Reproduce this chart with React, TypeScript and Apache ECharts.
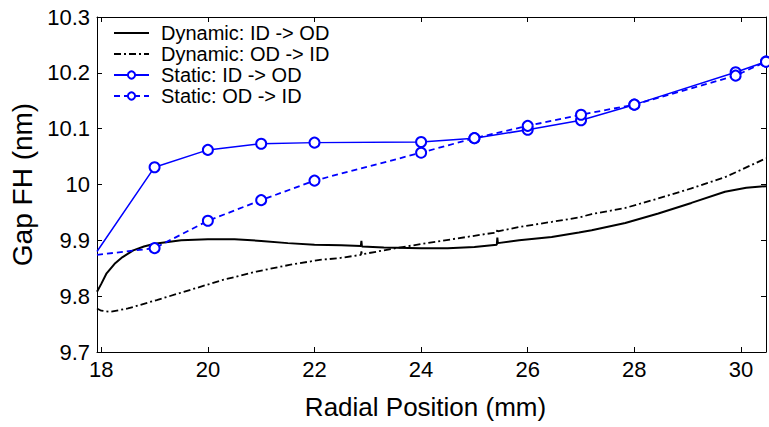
import React, { useEffect, useRef } from "react";
import * as echarts from "echarts";

// ---- Data ----
const xMin = 17.92;
const xMax = 30.47;

const dynIdOdX = [17.92, 18.0, 18.1, 18.25, 18.4, 18.6, 18.8, 19.0, 19.5, 20.0, 20.5, 21.0, 21.5, 22.0, 22.5, 22.87, 22.88, 22.89, 23.3, 24.0, 24.5, 25.0, 25.42, 25.43, 25.44, 25.84, 26.45, 26.96, 27.2, 27.83, 28.45, 29.07, 29.7, 30.1, 30.32, 30.47];
const dynIdOdY = [9.808, 9.822, 9.841, 9.858, 9.870, 9.882, 9.889, 9.894, 9.900, 9.902, 9.902, 9.899, 9.895, 9.892, 9.891, 9.890, 9.899, 9.889, 9.887, 9.886, 9.886, 9.888, 9.892, 9.905, 9.895, 9.900, 9.906, 9.914, 9.918, 9.931, 9.948, 9.967, 9.987, 9.994, 9.996, 9.997];

const dynOdIdX = [17.92, 18.0, 18.17, 18.5, 19.04, 19.66, 20.28, 20.91, 21.53, 22.1, 22.45, 22.87, 22.88, 22.89, 23.65, 24.58, 25.33, 25.42, 25.43, 25.44, 25.84, 26.45, 26.96, 27.2, 27.83, 28.45, 29.07, 29.7, 30.2, 30.47];
const dynOdIdY = [9.778, 9.774, 9.772, 9.778, 9.793, 9.811, 9.829, 9.844, 9.856, 9.865, 9.868, 9.874, 9.880, 9.875, 9.888, 9.902, 9.913, 9.914, 9.921, 9.916, 9.924, 9.933, 9.941, 9.947, 9.958, 9.975, 9.993, 10.013, 10.035, 10.047];

const statIdOdX = [17.92, 19, 20, 21, 22, 24, 25, 26, 27, 28, 29.9, 30.47];
const statIdOdY = [9.880, 10.031, 10.062, 10.073, 10.075, 10.076, 10.083, 10.098, 10.115, 10.143, 10.201, 10.220];

const statOdIdX = [17.92, 19, 20, 21, 22, 24, 25, 26, 27, 28, 29.9, 30.47];
const statOdIdY = [9.874, 9.886, 9.935, 9.972, 10.007, 10.057, 10.083, 10.105, 10.125, 10.143, 10.195, 10.220];

const seriesNames = [
  "Dynamic: ID -> OD",
  "Dynamic: OD -> ID",
  "Static: ID -> OD",
  "Static: OD -> ID",
];

const yTicks = { min: 9.7, max: 10.3, step: 0.1 };

const xLabel = "Radial Position (mm)";
const yLabel = "Gap FH (nm)";

const zip = (xs: number[], ys: number[]) => xs.map((x, i) => [x, ys[i]]);
const staticData = (xs: number[], ys: number[]) =>
  xs.map((x, i) =>
    i === 0 ? { value: [x, ys[i]], symbol: "none" } : { value: [x, ys[i]] }
  );

const FONT = "'Liberation Sans', Arial, sans-serif";

export default function App() {
  const ref = useRef<HTMLDivElement>(null);
  useEffect(() => {
    if (!ref.current) return;
    const chart = echarts.init(ref.current, undefined, { renderer: "svg" });
    const axisLine = { show: true, onZero: false, lineStyle: { color: "#000", width: 1 } };
    const axisTick = { show: true, inside: true, length: 5, lineStyle: { color: "#000", width: 1 } };
    const xFormatter = (v: number) => {
      const r = Math.round(v * 1000) / 1000;
      return Number.isInteger(r) && r % 2 === 0 ? String(r) : "";
    };
    chart.setOption({
      animation: false,
      backgroundColor: "#fff",
      textStyle: { fontFamily: FONT },
      grid: { left: 97, right: 1, top: 17, bottom: 75, containLabel: false },
      legend: {
        show: true,
        orient: "vertical",
        left: 113,
        top: 23,
        padding: 0,
        itemWidth: 35,
        itemHeight: 9,
        itemGap: 1,
        data: [
          { name: seriesNames[0], itemStyle: { opacity: 0 } },
          { name: seriesNames[1], itemStyle: { opacity: 0 } },
          { name: seriesNames[2] },
          { name: seriesNames[3] },
        ],
        textStyle: {
          fontFamily: FONT,
          fontSize: 20,
          lineHeight: 20,
          color: "#000",
          padding: [0, 0, 0, 7],
        },
      },
      xAxis: [
        {
          type: "value",
          position: "bottom",
          min: xMin,
          max: xMax,
          splitNumber: 6,
          axisLine,
          axisTick,
          splitLine: { show: false },
          axisLabel: {
            color: "#000",
            fontFamily: FONT,
            fontSize: 22,
            margin: 6,
            formatter: xFormatter,
          },
          name: xLabel,
          nameLocation: "middle",
          nameGap: 42,
          nameTextStyle: { color: "#000", fontFamily: FONT, fontSize: 26, padding: [0, 12, 0, 0] },
        },
        {
          type: "value",
          position: "top",
          min: xMin,
          max: xMax,
          splitNumber: 6,
          axisLine,
          axisTick,
          splitLine: { show: false },
          axisLabel: { show: false },
        },
      ],
      yAxis: [
        {
          type: "value",
          position: "left",
          min: yTicks.min,
          max: yTicks.max,
          interval: yTicks.step,
          axisLine,
          axisTick,
          splitLine: { show: false },
          axisLabel: {
            color: "#000",
            fontFamily: FONT,
            fontSize: 22,
            margin: 7,
            formatter: (v: number) => String(Math.round(v * 10) / 10),
          },
          name: yLabel,
          nameLocation: "middle",
          nameGap: 57,
          nameTextStyle: { color: "#000", fontFamily: FONT, fontSize: 28 },
        },
        {
          type: "value",
          position: "right",
          min: yTicks.min,
          max: yTicks.max,
          interval: yTicks.step,
          axisLine,
          axisTick,
          splitLine: { show: false },
          axisLabel: { show: false },
        },
      ],
      series: [
        {
          name: seriesNames[0],
          type: "line",
          xAxisIndex: 0,
          yAxisIndex: 0,
          data: zip(dynIdOdX, dynIdOdY),
          symbol: "none",
          lineStyle: { color: "#000", width: 2, type: "solid" },
          itemStyle: { color: "#000" },
        },
        {
          name: seriesNames[1],
          type: "line",
          xAxisIndex: 0,
          yAxisIndex: 0,
          data: zip(dynOdIdX, dynOdIdY),
          symbol: "none",
          lineStyle: { color: "#000", width: 1.8, type: [7, 3, 2, 3] },
          itemStyle: { color: "#000" },
        },
        {
          name: seriesNames[2],
          type: "line",
          xAxisIndex: 0,
          yAxisIndex: 0,
          data: staticData(statIdOdX, statIdOdY),
          symbol: "emptyCircle",
          symbolSize: 10,
          showAllSymbol: true,
          lineStyle: { color: "#0000ff", width: 1.5, type: "solid" },
          itemStyle: { color: "#0000ff", borderColor: "#0000ff", borderWidth: 1.5 },
        },
        {
          name: seriesNames[3],
          type: "line",
          xAxisIndex: 0,
          yAxisIndex: 0,
          data: staticData(statOdIdX, statOdIdY),
          symbol: "emptyCircle",
          symbolSize: 10,
          showAllSymbol: true,
          lineStyle: { color: "#0000ff", width: 1.8, type: [6, 4] },
          itemStyle: { color: "#0000ff", borderColor: "#0000ff", borderWidth: 1.5 },
        },
      ],
    });
    return () => chart.dispose();
  }, []);
  return (
    <div
      ref={ref}
      style={{ position: "fixed", left: 0, top: 0, width: 769, height: 427, background: "#fff" }}
    />
  );
}
